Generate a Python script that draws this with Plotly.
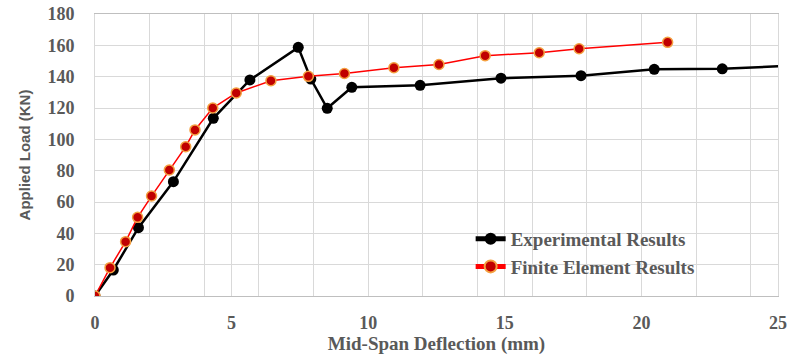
import plotly.graph_objects as go

# Experimental results (mid-span deflection mm, applied load kN)
exp_x = [0.0, 0.67, 1.59, 2.87, 4.33, 5.67, 7.44, 7.9, 8.5, 9.4, 11.9, 14.86, 17.79, 20.47, 22.96, 26.5]
exp_y = [0.0, 16.6, 43.6, 73.0, 113.4, 137.9, 158.7, 138.5, 119.8, 133.2, 134.5, 139.0, 140.6, 144.7, 145.0, 147.8]

# Finite element results
fe_x = [0.0, 0.55, 1.12, 1.56, 2.07, 2.72, 3.32, 3.66, 4.31, 5.17, 6.44, 7.81, 9.13, 10.94, 12.59, 14.28, 16.26, 17.72, 20.96]
fe_y = [0.0, 18.1, 34.7, 50.2, 63.8, 80.4, 95.3, 106.0, 120.0, 129.6, 137.4, 140.2, 142.0, 145.7, 147.8, 153.4, 155.3, 157.8, 161.9]

x_ticks = [0, 5, 10, 15, 20, 25]
y_ticks = [0, 20, 40, 60, 80, 100, 120, 140, 160, 180]

TXT = "#595959"
GRID = "#D9D9D9"

fig = go.Figure()
fig.add_trace(go.Scatter(
    x=exp_x, y=exp_y, mode="lines+markers", name="<b>Experimental Results</b>",
    line=dict(color="black", width=2.5),
    marker=dict(color="black", size=11, line=dict(width=0)),
))
fig.add_trace(go.Scatter(
    x=fe_x, y=fe_y, mode="lines+markers", name="<b>Finite Element Results</b>",
    line=dict(color="#FF0000", width=1.5),
    marker=dict(color="#C00000", size=10, line=dict(color="#F4A040", width=1.5)),
))

fig.update_layout(
    width=787, height=358,
    margin=dict(l=95, r=9, t=14, b=62, autoexpand=False),
    paper_bgcolor="white", plot_bgcolor="white",
    showlegend=True,
    legend=dict(
        x=0.55, y=0.27, xanchor="left", yanchor="top",
        bgcolor="rgba(0,0,0,0)", borderwidth=0,
        font=dict(family="Liberation Serif", size=19, color=TXT),
        tracegroupgap=0, itemsizing="constant",
    ),
    font=dict(family="Liberation Serif", color=TXT),
)

fig.update_xaxes(
    range=[0, 25], tickvals=x_ticks, ticktext=["<b>%d</b>" % v for v in x_ticks],
    showgrid=True, gridcolor=GRID, gridwidth=1,
    minor=dict(dtick=2, tick0=0, showgrid=True, gridcolor=GRID, gridwidth=1),
    showline=True, linecolor="#BFBFBF", linewidth=1, mirror=True,
    zeroline=False, automargin=False,
    tickfont=dict(family="Liberation Serif", size=18, color=TXT),
    ticklabelstandoff=10,
    title=dict(text="<b>Mid-Span Deflection (mm)</b>", standoff=4,
               font=dict(family="Liberation Serif", size=19, color=TXT)),
)
fig.update_yaxes(
    range=[0, 180], tickvals=y_ticks, ticktext=["<b>%d</b>" % v for v in y_ticks],
    showgrid=True, gridcolor=GRID, gridwidth=1,
    showline=True, linecolor="#D9D9D9", linewidth=1, mirror=True,
    zeroline=False, automargin=False,
    tickfont=dict(family="Liberation Serif", size=18, color=TXT),
    ticklabelstandoff=16,
    title=dict(text="<b>Applied Load (KN)</b>", standoff=13,
               font=dict(family="Liberation Sans", size=15, color=TXT)),
)

fig.write_html("out.html")
